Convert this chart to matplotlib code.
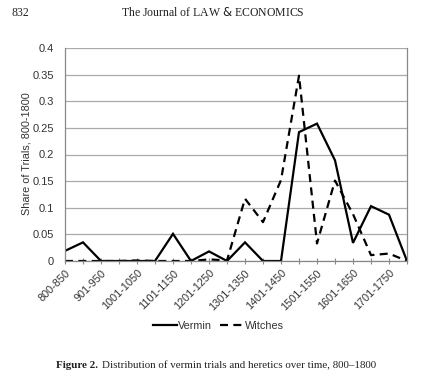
import matplotlib
matplotlib.use("Agg")
import matplotlib.pyplot as plt

categories = ["800-850", "851-900", "901-950", "951-1000", "1001-1050", "1051-1100",
              "1101-1150", "1151-1200", "1201-1250", "1251-1300", "1301-1350", "1351-1400",
              "1401-1450", "1451-1500", "1501-1550", "1551-1600", "1601-1650", "1651-1700",
              "1701-1750", "1751-1800"]
vermin = [0.019, 0.035, 0, 0, 0, 0, 0.051, 0, 0.018, 0, 0.035, 0, 0, 0.242, 0.258,
          0.189, 0.034, 0.103, 0.087, 0]
witches = [0, 0, 0, 0, 0.001, 0, 0, 0, 0.003, 0.001, 0.117, 0.073, 0.152, 0.348, 0.033,
           0.151, 0.088, 0.011, 0.014, 0]
yticks = [0, 0.05, 0.1, 0.15, 0.2, 0.25, 0.3, 0.35, 0.4]
ytick_labels = ["0", "0.05", "0.1", "0.15", "0.2", "0.25", "0.3", "0.35", "0.4"]

W, H = 441, 380
fig = plt.figure(figsize=(W / 100, H / 100), dpi=100)
fig.patch.set_facecolor("white")

def px(x0, y0, x1, y1):
    return [x0 / W, 1 - y1 / H, (x1 - x0) / W, (y1 - y0) / H]

ax = fig.add_axes(px(65, 48, 407, 261))
txtc = "#333333"
sans = "Liberation Sans"
serif = "Liberation Serif"

x = list(range(len(categories)))
ax.plot(x, vermin, color="black", lw=1.6, label="Vermin", solid_joinstyle="miter")
ax.plot(x, witches, color="black", lw=1.6, ls=(0, (3.6, 2.4)), label="Witches")

ax.set_xlim(0, len(categories) - 1)
ax.set_ylim(0, 0.4)
ax.set_yticks(yticks)
ax.set_yticklabels(ytick_labels, fontsize=8, color=txtc, family=sans)
ax.tick_params(axis="y", length=0, pad=8)
ax.set_xticks(x)
ax.set_xticklabels([c if i % 2 == 0 else "" for i, c in enumerate(categories)],
                   fontsize=7.8, color=txtc, family=sans, rotation=45,
                   ha="right", va="top", rotation_mode="anchor")
ax.tick_params(axis="x", length=4, direction="inout", color="#888888", pad=3)
ax.grid(axis="y", color="#aaaaaa", lw=0.9)
ax.set_axisbelow(True)
ax.spines["top"].set_visible(False)
for s in ["left", "right", "bottom"]:
    ax.spines[s].set_color("#888888")
    ax.spines[s].set_linewidth(0.9)

fig.text(27 / W, 1 - 154 / H, "Share of Trials, 800-1800", rotation=90,
         ha="center", va="center", fontsize=7.8, color=txtc, family=sans)

leg = fig.legend(loc="center", bbox_to_anchor=(218.5 / W, 1 - 326 / H), ncol=2,
                 frameon=False, handlelength=2.2, columnspacing=0.75,
                 handletextpad=0.1, prop={"family": sans, "size": 7.8})
for t in leg.get_texts():
    t.set_color(txtc)

fig.text(12 / W, 1 - 16 / H, "832", ha="left", va="baseline", fontsize=8.5,
         family=serif, color="#222222")
fig.text(213 / W, 1 - 16 / H, "The Journal of LAW $\\it{&}$ ECONOMICS", ha="center",
         va="baseline", fontsize=8.5, family=serif, color="#222222")

cap_fs = 7.9
t1 = fig.text(56 / W, 1 - 368 / H, "Figure 2.", ha="left", va="baseline", fontsize=cap_fs,
              family=serif, weight="bold", color="#222222")
r = fig.canvas.get_renderer()
bb = t1.get_window_extent(renderer=r)
fig.text((bb.x1 + 4) / W, 1 - 368 / H,
         "Distribution of vermin trials and heretics over time, 800\u20131800",
         ha="left", va="baseline", fontsize=cap_fs, family=serif, color="#222222")

fig.savefig("out.png", dpi=100, facecolor="white")
